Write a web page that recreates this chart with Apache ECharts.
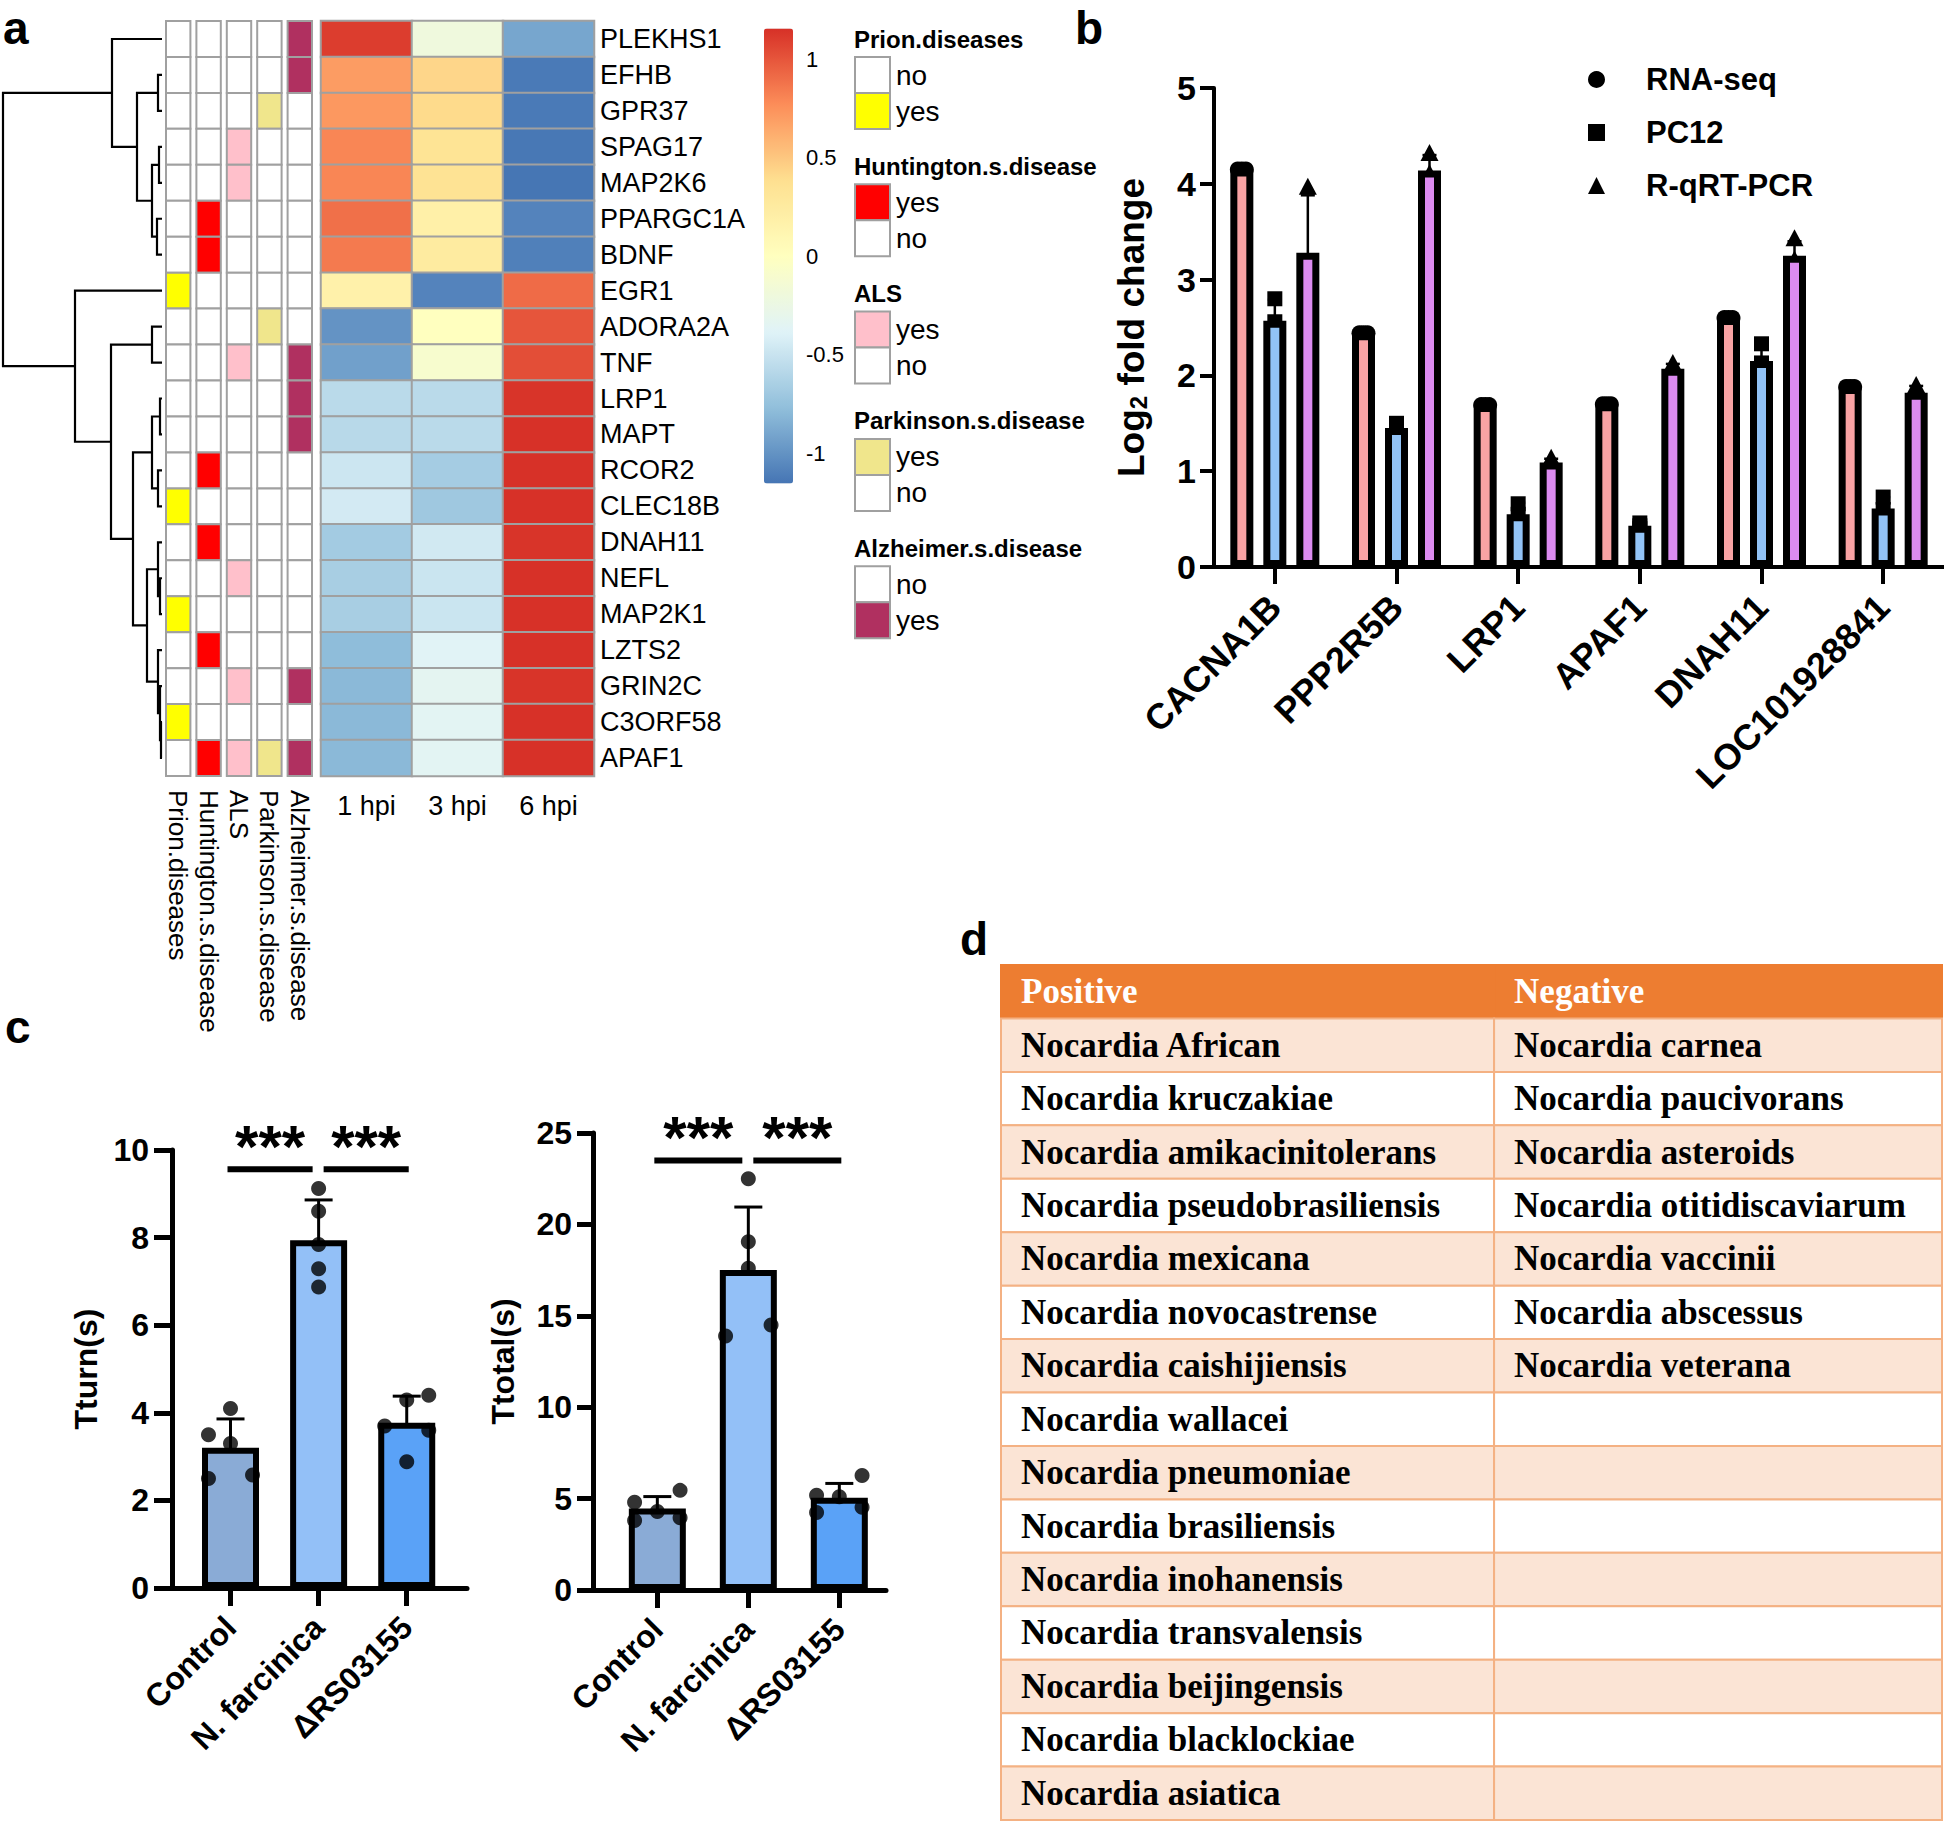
<!DOCTYPE html>
<html>
<head>
<meta charset="utf-8">
<script src="https://cdn.jsdelivr.net/npm/echarts@6.0.0/dist/echarts.min.js"></script>
<style>
html,body{margin:0;padding:0;background:#fff;}
#main{width:1944px;height:1823px;}
</style>
</head>
<body>
<div id="main"></div>
<script>
// ---------- a: heatmap ----------
const genes = ['PLEKHS1','EFHB','GPR37','SPAG17','MAP2K6','PPARGC1A','BDNF','EGR1','ADORA2A','TNF','LRP1','MAPT','RCOR2','CLEC18B','DNAH11','NEFL','MAP2K1','LZTS2','GRIN2C','C3ORF58','APAF1'];
const hpi = ['1 hpi','3 hpi','6 hpi'];
// row scaled values (1 hpi, 3 hpi, 6 hpi)
const zscore = [
  [1.10,-0.20,-0.90],[0.70,0.43,-1.13],[0.72,0.41,-1.13],[0.80,0.34,-1.14],[0.80,0.35,-1.15],
  [0.89,0.19,-1.08],[0.85,0.25,-1.10],[0.17,-1.08,0.91],[-1.00,0.00,1.00],[-0.93,-0.10,1.03],
  [-0.57,-0.57,1.14],[-0.58,-0.57,1.15],[-0.48,-0.67,1.15],[-0.45,-0.70,1.15],[-0.68,-0.46,1.14],
  [-0.66,-0.49,1.15],[-0.66,-0.49,1.15],[-0.78,-0.37,1.15],[-0.80,-0.34,1.14],[-0.80,-0.35,1.15],
  [-0.80,-0.35,1.15]
];
const diseases = ['Prion.diseases','Huntington.s.disease','ALS','Parkinson.s.disease','Alzheimer.s.disease'];
const diseaseColors = ['#FFFF00','#FF0000','#FFC0CB','#F0E68C','#B03060'];
// 1 = yes (columns in disease order)
const diseaseFlags = [
  [0,0,0,0,1],[0,0,0,0,1],[0,0,0,1,0],[0,0,1,0,0],[0,0,1,0,0],[0,1,0,0,0],[0,1,0,0,0],
  [1,0,0,0,0],[0,0,0,1,0],[0,0,1,0,1],[0,0,0,0,1],[0,0,0,0,1],[0,1,0,0,0],[1,0,0,0,0],
  [0,1,0,0,0],[0,0,1,0,0],[1,0,0,0,0],[0,1,0,0,0],[0,0,1,0,1],[1,0,0,0,0],[0,1,1,1,1]
];
const legendOrder = [['no','yes'],['yes','no'],['yes','no'],['yes','no'],['no','yes']];
const scaleTicks = [-1,-0.5,0,0.5,1];
// dendrogram merges [childA, childB, height]; child < 21 is a row, >= 21 is merge (21 = first)
const merges = [
  [1,2,4],[3,4,3],[5,6,5],[22,23,10],[21,24,25],[0,25,50],
  [8,9,10],[10,11,2],[12,13,4],[28,29,10],[15,16,2],[14,31,4],
  [19,20,1],[18,33,2],[17,34,4],[32,35,15],[30,36,29],[27,37,51],[7,38,87],[26,39,159]
];

// ---------- b ----------
const fcGenes = ['CACNA1B','PPP2R5B','LRP1','APAF1','DNAH11','LOC101928841'];
const fcNames = ['RNA-seq','PC12','R-qRT-PCR'];
const rnaSeq = [4.15,2.44,1.69,1.70,2.60,1.88];
const pc12Mean = [2.57,1.45,0.55,0.43,2.15,0.61];
const pc12Sd = [0.22,0.06,0.12,0.03,0.17,0.12];
const pc12Pts = [[2.80,2.56,2.35],[1.50,1.45,1.40],[0.66,0.55,0.44],[0.46,0.43,0.40],[2.33,2.13,2.00],[0.73,0.60,0.50]];
const qpcrMean = [3.28,4.14,1.09,2.07,3.25,1.82];
const qpcrSd = [0.60,0.16,0.04,0.05,0.15,0.07];
const qpcrPts = [[3.96,3.00,2.88],[4.31,4.10,4.00],[1.13,1.08,1.05],[2.12,2.06,2.02],[3.42,3.20,3.13],[1.89,1.80,1.77]];

// ---------- c ----------
const groups = ['Control','N. farcinica','ΔRS03155'];
const tturnMean = [3.20,7.94,3.77];
const tturnSd = [0.66,0.92,0.61];
const tturnPts = [[4.10,3.50,3.30,2.50,2.58],[9.12,8.60,7.84,7.29,6.87],[4.40,4.29,3.70,3.60,2.88]];
const tturnJitter = [[0,-0.25,0,-0.25,0.25],[0,0,0,0,0],[0.25,0,-0.25,0.25,0]];
const ttotalMean = [4.46,17.5,5.04];
const ttotalSd = [0.65,3.45,0.79];
const ttotalPts = [[4.80,3.80,4.30,5.45,3.95],[22.5,19.05,17.6,13.9,14.5],[6.26,5.19,5.10,4.24,4.53]];
const ttotalJitter = [[-0.25,-0.25,0,0.25,0.25],[0,0,0,-0.25,0.25],[0.25,-0.25,0,-0.25,0.25]];
const sigPairs = [[0,1],[1,2]];
const sigText = '***';

// ---------- d ----------
const tableHead = ['Positive','Negative'];
const positive = ['Nocardia African','Nocardia kruczakiae','Nocardia amikacinitolerans','Nocardia pseudobrasiliensis','Nocardia mexicana','Nocardia novocastrense','Nocardia caishijiensis','Nocardia wallacei','Nocardia pneumoniae','Nocardia brasiliensis','Nocardia inohanensis','Nocardia transvalensis','Nocardia beijingensis','Nocardia blacklockiae','Nocardia asiatica'];
const negative = ['Nocardia carnea','Nocardia paucivorans','Nocardia asteroids','Nocardia otitidiscaviarum','Nocardia vaccinii','Nocardia abscessus','Nocardia veterana'];
const colEdges = [0, 0.524, 1];

const SANS = 'Liberation Sans, Arial, sans-serif';
const chart = echarts.init(document.getElementById('main'), null, {renderer: 'svg'});

// dendrogram node positions
const nodes = genes.map((g, i) => ({y: i, h: 0}));
merges.forEach(m => nodes.push({y: (nodes[m[0]].y + nodes[m[1]].y) / 2, h: m[2]}));
const dendroData = merges.map(m => [nodes[m[0]].h, nodes[m[0]].y, m[2], nodes[m[1]].y, nodes[m[1]].h]);

const heatData = [];
zscore.forEach((row, i) => row.forEach((v, j) => heatData.push([j, i, v])));
const annotData = [];
diseaseFlags.forEach((row, i) => row.forEach((f, j) => annotData.push([j, i, f])));

const noAxis = (gi, type, extra) => Object.assign({gridIndex: gi, type: type, show: false}, extra || {});

function symbolShape(s, x, y) {
  const st = {fill: '#000'};
  if (s === 0) return {type: 'circle', shape: {cx: x, cy: y, r: 8}, style: st};
  if (s === 1) return {type: 'rect', shape: {x: x - 7.5, y: y - 7.5, width: 15, height: 15}, style: st};
  return {type: 'polygon', shape: {points: [[x, y - 10], [x - 9, y + 7], [x + 9, y + 7]]}, style: st};
}
const fcBarW = 23, fcGap = 10;
function fcRender(s) {
  return function (params, api) {
    const i = api.value(0), m = api.value(1), sd = api.value(2);
    const cx = api.coord([i, m])[0] + (s - 1) * (fcBarW + fcGap);
    const kids = [];
    if (sd > 0) {
      const yt = api.coord([i, m + sd])[1], yb = api.coord([i, m - sd])[1];
      kids.push({type: 'line', shape: {x1: cx, y1: yt, x2: cx, y2: yb}, style: {stroke: '#000', lineWidth: 2.5}});
      kids.push({type: 'line', shape: {x1: cx - 7, y1: yt, x2: cx + 7, y2: yt}, style: {stroke: '#000', lineWidth: 2.5}});
    }
    [-4, 0, 4].forEach((dx, k) => {
      kids.push(symbolShape(s, cx + (s === 0 ? dx : 0), api.coord([i, api.value(3 + k)])[1]));
    });
    return {type: 'group', children: kids};
  };
}
const fcData = [
  rnaSeq.map((v, i) => [i, v, 0, v, v, v]),
  pc12Mean.map((v, i) => [i, v, pc12Sd[i]].concat(pc12Pts[i])),
  qpcrMean.map((v, i) => [i, v, qpcrSd[i]].concat(qpcrPts[i]))
];
const fcColors = ['#F9A3A4', '#92C3F6', '#DC8BF0'];
const groupColors = ['#8AABD6', '#93C0F7', '#5AA2F7'];

function errRender(params, api) {
  const i = api.value(0), m = api.value(1), sd = api.value(2);
  const cx = api.coord([i, m])[0];
  const yt = api.coord([i, m + sd])[1], yb = api.coord([i, m - sd])[1];
  const ln = (x1, y1, x2, y2) => ({type: 'line', shape: {x1, y1, x2, y2}, style: {stroke: '#000', lineWidth: 3}});
  return {type: 'group', children: [ln(cx, yt, cx, yb), ln(cx - 14, yt, cx + 14, yt), ln(cx - 14, yb, cx + 14, yb)]};
}
function sigRender(params, api) {
  const a = api.value(0), b = api.value(1), lv = api.value(2);
  const pa = api.coord([a, lv]), pb = api.coord([b, lv]);
  const x1 = pa[0] + (a === 1 ? 5 : -3), x2 = pb[0] - (b === 1 ? 6 : -2);
  return {type: 'group', children: [
    {type: 'line', shape: {x1: x1, y1: pa[1], x2: x2, y2: pa[1]}, style: {stroke: '#000', lineWidth: 6}},
    {type: 'text', style: {text: sigText, x: (x1 + x2) / 2, y: pa[1] + 7, align: 'center', verticalAlign: 'bottom', font: 'bold 60px ' + SANS, fill: '#000'}}
  ]};
}

function cAxes(gi, min, max, yMax, yInt, name, nameGap, tickLen) {
  const lineSt = {color: '#000', width: 5};
  return {
    x: {gridIndex: gi, type: 'value', min: min, max: max,
      axisLine: {show: true, onZero: false, lineStyle: lineSt}, splitLine: {show: false},
      axisTick: {show: true, customValues: [0, 1, 2], length: 18, lineStyle: lineSt},
      axisLabel: {customValues: [0, 1, 2], formatter: v => groups[v], rotate: 45, margin: 34,
        fontSize: 32, fontWeight: 'bold', color: '#000', fontFamily: SANS}},
    y: {gridIndex: gi, type: 'value', min: 0, max: yMax, interval: yInt,
      axisLine: {show: true, onZero: false, lineStyle: lineSt}, splitLine: {show: false},
      axisTick: {show: true, length: tickLen, lineStyle: lineSt},
      axisLabel: {margin: tickLen + 5, fontSize: 32, fontWeight: 'bold', color: '#000', fontFamily: SANS},
      name: name, nameLocation: 'middle', nameRotate: 90, nameGap: nameGap,
      nameTextStyle: {fontSize: 32, fontWeight: 'bold', color: '#000', fontFamily: SANS}}
  };
}
const cA = cAxes(5, -0.664, 2.684, 10, 2, 'Tturn(s)', 70, 18);
const cB = cAxes(6, -0.707, 2.513, 25, 5, 'Ttotal(s)', 74, 16);

function cSeries(ax, means, sds, pts, jit, lvl) {
  return [
    {type: 'bar', xAxisIndex: ax, yAxisIndex: ax, barWidth: 57,
      data: means.map((v, i) => ({value: [i, v], itemStyle: {color: groupColors[i]}})),
      itemStyle: {borderColor: '#000', borderWidth: 6}},
    {type: 'custom', xAxisIndex: ax, yAxisIndex: ax, renderItem: errRender,
      data: means.map((v, i) => [i, v, sds[i]])},
    {type: 'scatter', xAxisIndex: ax, yAxisIndex: ax, symbolSize: 15, itemStyle: {color: '#000'},
      data: [].concat(...pts.map((arr, i) => arr.map((v, k) => [i + jit[i][k], v])))},
    {type: 'custom', xAxisIndex: ax, yAxisIndex: ax, renderItem: sigRender, clip: false,
      data: sigPairs.map(p => [p[0], p[1], lvl])}
  ];
}

// legend swatches of panel a
const legendGraphics = [];
diseases.forEach((d, k) => {
  const top = 39 + k * 127.3;
  legendGraphics.push({type: 'text', x: 854, y: top, style: {text: d, font: 'bold 24px ' + SANS, fill: '#000', verticalAlign: 'middle'}});
  legendOrder[k].forEach((lab, q) => {
    const y0 = top + 18 + q * 36;
    legendGraphics.push({type: 'rect', shape: {x: 855, y: y0, width: 35, height: 36},
      style: {fill: lab === 'yes' ? diseaseColors[k] : '#fff', stroke: '#A0A0A0', lineWidth: 2}});
    legendGraphics.push({type: 'text', x: 896, y: y0 + 18, style: {text: lab, font: '28px ' + SANS, fill: '#000', verticalAlign: 'middle'}});
  });
});
const panelLabels = [['a', 3, 5], ['b', 1075, 5], ['c', 5, 1004], ['d', 960, 916]].map(p => (
  {type: 'text', x: p[1], y: p[2], style: {text: p[0], font: 'bold 46px ' + SANS, fill: '#000', verticalAlign: 'top'}}));

const option = {
  animation: false,
  backgroundColor: '#fff',
  textStyle: {fontFamily: SANS},
  grid: [
    {left: 3, top: 21, width: 159, height: 755},
    {left: 163, top: 21, width: 152, height: 755},
    {left: 321, top: 21, width: 273, height: 755},
    {left: 764, top: 28.6, width: 29, height: 455},
    {left: 1214, top: 88, width: 730, height: 479},
    {left: 172, top: 1150, width: 295, height: 438},
    {left: 593, top: 1133, width: 293, height: 457},
    {left: 1001, top: 965, width: 941, height: 855}
  ],
  xAxis: [
    noAxis(0, 'value', {min: 0, max: 159, inverse: true}),
    {gridIndex: 1, type: 'category', data: diseases, axisLine: {show: false}, axisTick: {show: false},
      axisLabel: {interval: 0, rotate: -90, margin: 14, fontSize: 26, color: '#000', fontFamily: SANS}},
    {gridIndex: 2, type: 'category', data: hpi, axisLine: {show: false}, axisTick: {show: false},
      axisLabel: {margin: 16, fontSize: 27, color: '#000', fontFamily: SANS}},
    noAxis(3, 'value'),
    {gridIndex: 4, type: 'category', data: fcGenes,
      axisLine: {show: true, lineStyle: {color: '#000', width: 4}},
      axisTick: {show: true, alignWithLabel: true, length: 17, lineStyle: {color: '#000', width: 4}},
      axisLabel: {rotate: 45, margin: 34, fontSize: 36, fontWeight: 'bold', color: '#000', fontFamily: SANS, interval: 0}},
    cA.x, cB.x,
    noAxis(7, 'value', {min: 0, max: 1})
  ],
  yAxis: [
    noAxis(0, 'value', {min: -0.5, max: 20.5, inverse: true}),
    noAxis(1, 'category', {data: genes, inverse: true}),
    {gridIndex: 2, type: 'category', data: genes, inverse: true, position: 'right',
      axisLine: {show: false}, axisTick: {show: false},
      axisLabel: {margin: 6, fontSize: 27, color: '#000', fontFamily: SANS}},
    {gridIndex: 3, type: 'value', min: -1.1547, max: 1.1547, position: 'right',
      axisLine: {show: false}, axisTick: {show: false}, splitLine: {show: false},
      axisLabel: {customValues: scaleTicks, margin: 13, fontSize: 22, color: '#000', fontFamily: SANS}},
    {gridIndex: 4, type: 'value', min: 0, max: 5, interval: 1,
      axisLine: {show: true, lineStyle: {color: '#000', width: 4}}, splitLine: {show: false},
      axisTick: {show: true, length: 14, lineStyle: {color: '#000', width: 4}},
      axisLabel: {margin: 18, fontSize: 34, fontWeight: 'bold', color: '#000', fontFamily: SANS},
      name: 'Log{sub|2} fold change', nameLocation: 'middle', nameRotate: 90, nameGap: 64,
      nameTextStyle: {fontSize: 37, fontWeight: 'bold', color: '#000', fontFamily: SANS,
        rich: {sub: {fontSize: 24, fontWeight: 'bold', verticalAlign: 'bottom', padding: [14, 0, 0, 0]}}}},
    cA.y, cB.y,
    noAxis(7, 'category', {data: ['head'].concat(positive), inverse: true})
  ],
  visualMap: {
    type: 'continuous', min: -1.1547, max: 1.1547, seriesIndex: 2, calculable: false, hoverLink: false,
    left: 764, top: 28.6, padding: 0, itemWidth: 29, itemHeight: 455, text: null,
    inRange: {color: ['#4575B4', '#91BFDB', '#E0F3F8', '#FFFFBF', '#FEE090', '#FC8D59', '#D73027']}
  },
  legend: {
    left: 1583, top: 59, orient: 'vertical', itemGap: 22, itemWidth: 17, itemHeight: 17, selectedMode: false,
    data: [
      {name: 'RNA-seq', icon: 'circle', itemStyle: {color: '#000', borderWidth: 0}},
      {name: 'PC12', icon: 'rect', itemStyle: {color: '#000', borderWidth: 0}},
      {name: 'R-qRT-PCR', icon: 'triangle', itemStyle: {color: '#000', borderWidth: 0}}
    ],
    textStyle: {fontSize: 31, fontWeight: 'bold', color: '#000', fontFamily: SANS, padding: [0, 0, 0, 36]}
  },
  graphic: legendGraphics.concat(panelLabels),
  series: [
    {type: 'custom', xAxisIndex: 0, yAxisIndex: 0, data: dendroData, silent: true,
      renderItem: (p, api) => ({type: 'polyline', shape: {points: [
        api.coord([api.value(0), api.value(1)]), api.coord([api.value(2), api.value(1)]),
        api.coord([api.value(2), api.value(3)]), api.coord([api.value(4), api.value(3)])]},
        style: {stroke: '#000', lineWidth: 2.2, fill: null}})},
    {type: 'custom', xAxisIndex: 1, yAxisIndex: 1, data: annotData, silent: true,
      renderItem: (p, api) => {
        const c = api.coord([api.value(0), api.value(1)]), s = api.size([1, 1]);
        const w = s[0] - 6;
        return {type: 'rect', shape: {x: c[0] - w / 2, y: c[1] - s[1] / 2, width: w, height: s[1]},
          style: {fill: api.value(2) ? diseaseColors[api.value(0)] : '#fff', stroke: '#A0A0A0', lineWidth: 2}};
      }},
    {type: 'heatmap', xAxisIndex: 2, yAxisIndex: 2, data: heatData, silent: true,
      itemStyle: {borderColor: '#A0A0A0', borderWidth: 2}},
  ].concat(fcNames.map((n, s) => ({
    type: 'bar', name: n, xAxisIndex: 4, yAxisIndex: 4, data: fcData[s].map(r => r[1]),
    barWidth: fcBarW, barGap: (fcGap / fcBarW * 100) + '%',
    itemStyle: {color: fcColors[s], borderColor: '#000', borderWidth: 7}
  }))).concat(fcNames.map((n, s) => ({
    type: 'custom', name: n, xAxisIndex: 4, yAxisIndex: 4, data: fcData[s], renderItem: fcRender(s), clip: false
  }))).concat(cSeries(5, tturnMean, tturnSd, tturnPts, tturnJitter, 9.56))
    .concat(cSeries(6, ttotalMean, ttotalSd, ttotalPts, ttotalJitter, 23.5))
    .concat([{
      type: 'custom', xAxisIndex: 7, yAxisIndex: 7, silent: true,
      data: [].concat(...Array.from({length: positive.length + 1}, (_, r) => [[0, r], [1, r]])),
      renderItem: (p, api) => {
        const col = api.value(0), r = api.value(1);
        const pL = api.coord([colEdges[col], r]), pR = api.coord([colEdges[col + 1], r]);
        const hgt = api.size([0, 1])[1];
        const x0 = pL[0], y0 = pL[1] - hgt / 2, w = pR[0] - pL[0];
        const txt = r === 0 ? tableHead[col] : ((col === 0 ? positive : negative)[r - 1] || '');
        const fill = r === 0 ? '#ED7D31' : (r % 2 === 1 ? '#FBE4D5' : '#FFFFFF');
        return {type: 'group', children: [
          {type: 'rect', shape: {x: x0, y: y0, width: w, height: hgt},
            style: {fill: fill, stroke: r === 0 ? '#ED7D31' : '#F4B183', lineWidth: 2}},
          {type: 'text', style: {text: txt, x: x0 + 20, y: pL[1], verticalAlign: 'middle', align: 'left',
            font: 'bold 35px "Liberation Serif", "Times New Roman", serif', fill: r === 0 ? '#FFFFFF' : '#000'}}
        ]};
      }
    }])
};
chart.setOption(option);
</script>
</body>
</html>
